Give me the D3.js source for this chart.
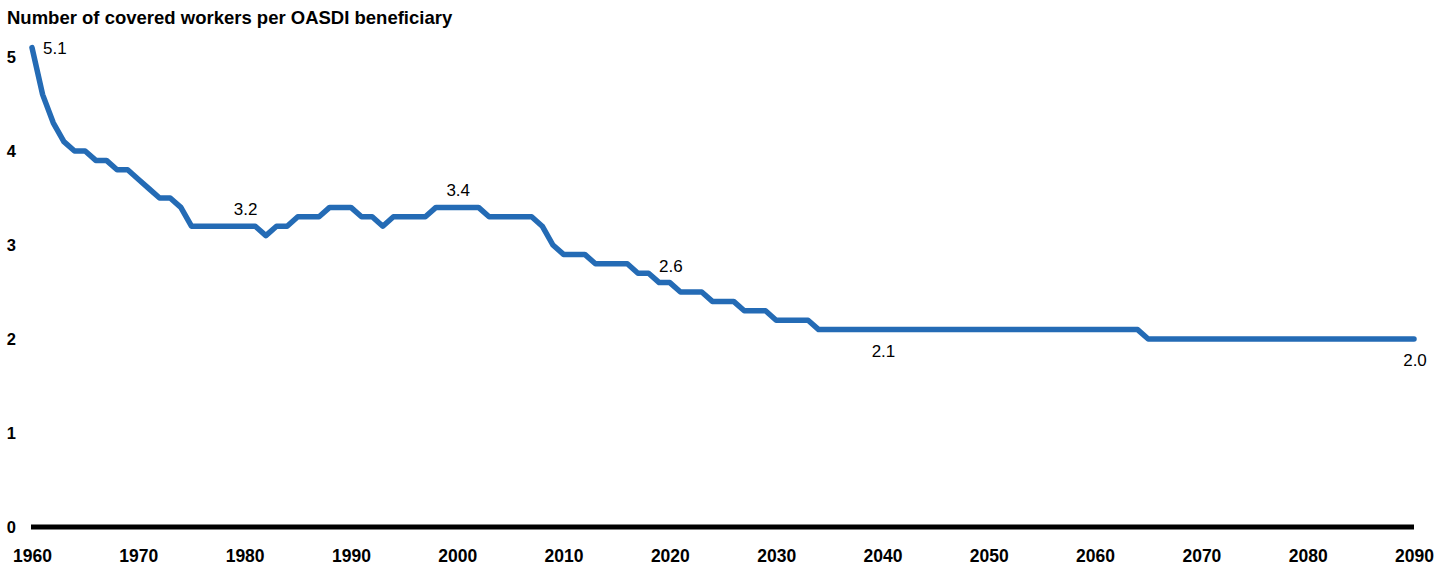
<!DOCTYPE html>
<head>
    <meta charset="utf-8">
    <title>Covered workers per OASDI beneficiary</title>
    <style>
        body {
            margin: 0;
            background: #fff;
        }

        svg {
            display: block;
        }

        .title {
          font: bold 18.5px "Liberation Sans", Arial, sans-serif;
          fill: #000;
        }

        .axis text {
          font: bold 17.5px "Liberation Sans", Arial, sans-serif;
          fill: #000;
        }

        .axis--y text {
          font-size: 16.5px;
        }

        .axis .domain {
          display: none;
        }

        .ratio {
          fill: none;
          stroke: #246bb5;
          stroke-width: 5.5px;
          stroke-linecap: round;
          stroke-linejoin: round;
        }

        .zero {
          stroke: #000;
          stroke-width: 5px;
        }

        .label {
          font: 17px "Liberation Sans", Arial, sans-serif;
          fill: #000;
        }
    </style>
</head>
<body>
<script src="https://cdnjs.cloudflare.com/ajax/libs/d3/7.8.5/d3.min.js"></script>
<script>

var startYear = 1960;

// workers per beneficiary, one value per year from 1960 to 2090
var ratios = [
  5.1, 4.6, 4.3, 4.1, 4.0, 4.0, 3.9, 3.9, 3.8, 3.8,   // 1960s
  3.7, 3.6, 3.5, 3.5, 3.4, 3.2, 3.2, 3.2, 3.2, 3.2,   // 1970s
  3.2, 3.2, 3.1, 3.2, 3.2, 3.3, 3.3, 3.3, 3.4, 3.4,   // 1980s
  3.4, 3.3, 3.3, 3.2, 3.3, 3.3, 3.3, 3.3, 3.4, 3.4,   // 1990s
  3.4, 3.4, 3.4, 3.3, 3.3, 3.3, 3.3, 3.3, 3.2, 3.0,   // 2000s
  2.9, 2.9, 2.9, 2.8, 2.8, 2.8, 2.8, 2.7, 2.7, 2.6,   // 2010s
  2.6, 2.5, 2.5, 2.5, 2.4, 2.4, 2.4, 2.3, 2.3, 2.3,   // 2020s
  2.2, 2.2, 2.2, 2.2, 2.1, 2.1, 2.1, 2.1, 2.1, 2.1,   // 2030s
  2.1, 2.1, 2.1, 2.1, 2.1, 2.1, 2.1, 2.1, 2.1, 2.1,   // 2040s
  2.1, 2.1, 2.1, 2.1, 2.1, 2.1, 2.1, 2.1, 2.1, 2.1,   // 2050s
  2.1, 2.1, 2.1, 2.1, 2.1, 2.0, 2.0, 2.0, 2.0, 2.0,   // 2060s
  2.0, 2.0, 2.0, 2.0, 2.0, 2.0, 2.0, 2.0, 2.0, 2.0,   // 2070s
  2.0, 2.0, 2.0, 2.0, 2.0, 2.0, 2.0, 2.0, 2.0, 2.0,   // 2080s
  2.0                                                 // 2090
];

var xTicks = [1960, 1970, 1980, 1990, 2000, 2010, 2020, 2030, 2040, 2050, 2060, 2070, 2080, 2090];
var yTicks = [0, 1, 2, 3, 4, 5];

// years that get a value label
var labelYears = [1960, 1980, 2000, 2020, 2040, 2090];

var titleText = "Number of covered workers per OASDI beneficiary";

var width = 1450,
    height = 568;

var data = ratios.map(function(v, i) { return {year: startYear + i, value: v}; });

var x = d3.scaleLinear()
    .domain([1960, 2090])
    .range([32, 1414]);

var y = d3.scaleLinear()
    .domain([0, 5])
    .range([527, 57]);

var svg = d3.select("body").append("svg")
    .attr("width", width)
    .attr("height", height);

svg.append("text")
    .attr("class", "title")
    .attr("x", 7)
    .attr("y", 24)
    .text(titleText);

// y axis labels only
svg.append("g")
    .attr("class", "axis axis--y")
    .attr("transform", "translate(16,0)")
    .call(d3.axisLeft(y).tickValues(yTicks).tickSize(0).tickPadding(0).tickFormat(d3.format("d")));

// x axis labels only
svg.append("g")
    .attr("class", "axis axis--x")
    .attr("transform", "translate(0,544)")
    .call(d3.axisBottom(x).tickValues(xTicks).tickSize(0).tickPadding(6).tickFormat(d3.format("d")));

svg.append("line")
    .attr("class", "zero")
    .attr("x1", x(1960) - 1)
    .attr("x2", x(2090))
    .attr("y1", y(0))
    .attr("y2", y(0));

var line = d3.line()
    .x(function(d) { return x(d.year); })
    .y(function(d) { return y(d.value); });

svg.append("path")
    .datum(data)
    .attr("class", "ratio")
    .attr("d", line);

// value labels: first one sits to the right, the 2040+ ones below the line
svg.selectAll(".label")
    .data(data.filter(function(d) { return labelYears.indexOf(d.year) > -1; }))
  .enter().append("text")
    .attr("class", "label")
    .attr("text-anchor", function(d) { return d.year === 1960 ? "start" : "middle"; })
    .attr("x", function(d) { return d.year === 1960 ? x(d.year) + 11 : x(d.year) + 1; })
    .attr("y", function(d) {
      if (d.year === 1960) return y(d.value) + 6;
      if (d.year >= 2040) return y(d.value) + 27;
      return y(d.value) - 11;
    })
    .text(function(d) { return d3.format(".1f")(d.value); });

</script>
</body>
